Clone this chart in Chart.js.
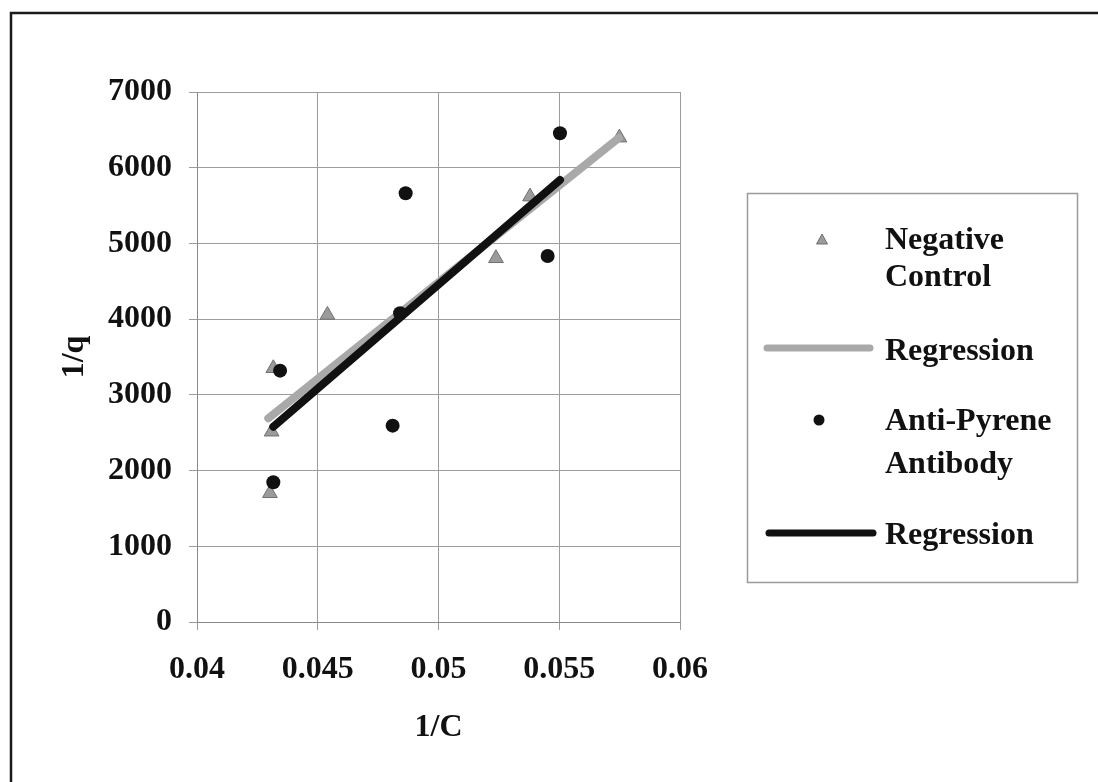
<!DOCTYPE html>
<html>
<head>
<meta charset="utf-8">
<script src="https://cdn.jsdelivr.net/npm/chart.js@4/dist/chart.umd.min.js"></script>
<style>
  html, body { margin: 0; padding: 0; background: #fff; }
  #wrap { position: relative; width: 1098px; height: 782px; }
</style>
</head>
<body>
<div id="wrap"><canvas id="myChart" width="1098" height="782"></canvas></div>
<script>
// 1/C and 1/q values, negative control
let controlX = [0.04302, 0.04309, 0.04316, 0.0454, 0.05238, 0.05379, 0.05749]
let controlY = [1700, 2513, 3351, 4055, 4804, 5618, 6397]
// regression line for the control (end points)
let controlFitX = [0.04295, 0.05747]
let controlFitY = [2690, 6393]

// anti-pyrene antibody
let antibodyX = [0.04316, 0.04344, 0.0481, 0.04841, 0.04864, 0.05452, 0.05503]
let antibodyY = [1845, 3320, 2593, 4077, 5662, 4834, 6455]
let antibodyFitX = [0.04316, 0.05503]
let antibodyFitY = [2580, 5838]

let xTicks = [0.04, 0.045, 0.05, 0.055, 0.06]
let yTicks = [0, 1000, 2000, 3000, 4000, 5000, 6000, 7000]

let legendNames = [["Negative", "Control"], ["Regression"], ["Anti-Pyrene", "Antibody"], ["Regression"]]

function toPoints(xs, ys) {
    let pts = []
    for (let i = 0; i < xs.length; i++) pts.push({x: xs[i], y: ys[i]})
    return pts
}

const FONT = "'Liberation Serif', 'Times New Roman', serif"

// frame on top and left, plus the boxed legend on the right
const framePlugin = {
    id: "frame",
    beforeDraw(chart) {
        let ctx = chart.ctx
        ctx.save()
        ctx.fillStyle = "#fff"
        ctx.fillRect(0, 0, chart.width, chart.height)
        ctx.strokeStyle = "#1a1a1a"
        ctx.lineWidth = 2.5
        ctx.beginPath()
        ctx.moveTo(11, 782)
        ctx.lineTo(11, 13)
        ctx.lineTo(1098, 13)
        ctx.stroke()
        ctx.restore()
    },
    afterDraw(chart) {
        let ctx = chart.ctx
        let ds = chart.data.datasets
        ctx.save()
        ctx.strokeStyle = "#9a9a9a"
        ctx.lineWidth = 1.5
        ctx.strokeRect(747.5, 193.5, 330, 389)

        // triangle marker
        ctx.fillStyle = ds[0].backgroundColor
        ctx.strokeStyle = ds[0].borderColor
        ctx.lineWidth = 1
        ctx.beginPath()
        ctx.moveTo(822, 234)
        ctx.lineTo(827.5, 244)
        ctx.lineTo(816.5, 244)
        ctx.closePath()
        ctx.fill()
        ctx.stroke()

        // grey regression line
        ctx.lineCap = "round"
        ctx.strokeStyle = ds[1].borderColor
        ctx.lineWidth = 7
        ctx.beginPath()
        ctx.moveTo(767, 348)
        ctx.lineTo(870, 348)
        ctx.stroke()

        // circle marker
        ctx.fillStyle = ds[2].backgroundColor
        ctx.beginPath()
        ctx.arc(819, 420, 5.5, 0, Math.PI * 2)
        ctx.fill()

        // black regression line
        ctx.strokeStyle = ds[3].borderColor
        ctx.beginPath()
        ctx.moveTo(769, 533)
        ctx.lineTo(873, 533)
        ctx.stroke()

        ctx.fillStyle = "#111"
        ctx.font = "bold 32px " + FONT
        ctx.textAlign = "left"
        ctx.textBaseline = "middle"
        let rows = [[241, 278], [352], [422, 465], [536]]
        for (let i = 0; i < legendNames.length; i++) {
            for (let j = 0; j < legendNames[i].length; j++) {
                ctx.fillText(legendNames[i][j], 885, rows[i][j])
            }
        }
        ctx.restore()
    }
}

chart = new Chart(document.getElementById("myChart").getContext("2d"), {
    type: "scatter",
    data: {
        datasets: [
            {
                label: "Negative Control",
                data: toPoints(controlX, controlY),
                pointStyle: "triangle",
                pointRadius: 8.5,
                backgroundColor: "#9b9b9b",
                borderColor: "#707070",
                borderWidth: 1,
                order: 3
            },
            {
                label: "Regression",
                data: toPoints(controlFitX, controlFitY),
                showLine: true,
                pointRadius: 0,
                borderColor: "#a9a9a9",
                borderWidth: 8,
                borderCapStyle: "round",
                order: 2
            },
            {
                label: "Anti-Pyrene Antibody",
                data: toPoints(antibodyX, antibodyY),
                pointStyle: "circle",
                pointRadius: 7,
                backgroundColor: "#111",
                borderColor: "#111",
                borderWidth: 0,
                order: 1
            },
            {
                label: "Regression",
                data: toPoints(antibodyFitX, antibodyFitY),
                showLine: true,
                pointRadius: 0,
                borderColor: "#111",
                borderWidth: 8,
                borderCapStyle: "round",
                order: 0
            }
        ]
    },
    options: {
        responsive: false,
        animation: false,
        layout: {padding: {left: 0, top: 92, right: 418, bottom: 0}},
        plugins: {
            legend: {display: false},
            tooltip: {enabled: false}
        },
        scales: {
            x: {
                type: "linear",
                min: 0.04,
                max: 0.06,
                afterBuildTicks: function (scale) {
                    scale.ticks = xTicks.map(v => ({value: v}))
                },
                afterFit: function (scale) { scale.height = 160 },
                grid: {color: "#9c9c9c", lineWidth: 1, tickLength: 8},
                border: {color: "#8a8a8a", width: 1},
                ticks: {
                    color: "#111",
                    padding: 21,
                    font: {family: FONT, size: 32, weight: "bold"},
                    callback: v => String(v)
                },
                title: {
                    display: true,
                    text: "1/C",
                    color: "#111",
                    font: {family: FONT, size: 32, weight: "bold", lineHeight: 1.2},
                    padding: {top: 0, bottom: 35}
                }
            },
            y: {
                type: "linear",
                min: 0,
                max: 7000,
                afterBuildTicks: function (scale) {
                    scale.ticks = yTicks.map(v => ({value: v}))
                },
                afterFit: function (scale) { scale.width = 197 },
                grid: {color: "#9c9c9c", lineWidth: 1, tickLength: 8},
                border: {color: "#8a8a8a", width: 1},
                ticks: {
                    color: "#111",
                    padding: 17,
                    font: {family: FONT, size: 32, weight: "bold"},
                    callback: v => String(v)
                },
                title: {
                    display: true,
                    text: "1/q",
                    color: "#111",
                    font: {family: FONT, size: 32, weight: "bold", lineHeight: 1.2},
                    padding: {top: 56, bottom: 0}
                }
            }
        }
    },
    plugins: [framePlugin]
});
</script>
</body>
</html>
